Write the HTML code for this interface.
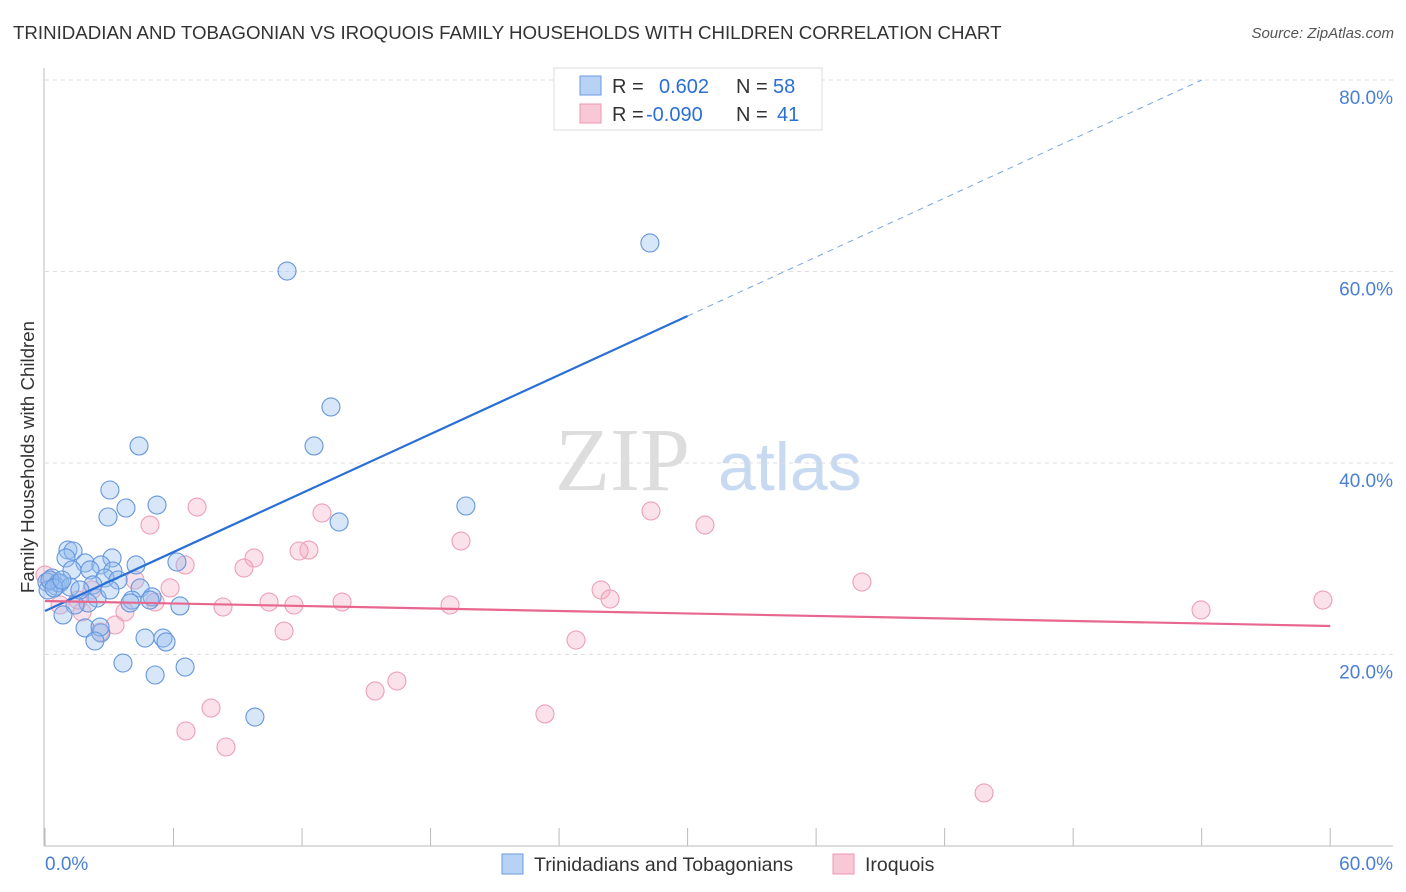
<!DOCTYPE html>
<html><head><meta charset="utf-8"><style>
body{margin:0;background:#fff;font-family:"Liberation Sans",sans-serif}
#wrap{position:relative;width:1406px;height:892px;overflow:hidden}
.t{position:absolute;white-space:nowrap}
</style></head><body>
<div id="wrap">
<div class="t" style="left:13px;top:22px;font-size:18.7px;color:#333">TRINIDADIAN AND TOBAGONIAN VS IROQUOIS FAMILY HOUSEHOLDS WITH CHILDREN CORRELATION CHART</div>
<div class="t" style="right:12px;top:25px;font-size:15px;color:#555;font-style:italic">Source: ZipAtlas.com</div>
<svg id="svg" width="1406" height="892" style="position:absolute;left:0;top:0"></svg>
</div>
<script>
const xTicks=[0,6,12,18,24,30,36,42,48,54,60];
const yTicks=[20,40,60,80];
const blueX=[11.3,28.24,13.35,12.56,4.39,3.03,2.94,3.78,5.23,19.65,13.73,1.07,1.31,0.98,1.87,3.13,4.25,6.16,2.61,2.10,1.26,3.17,2.80,3.41,2.24,0.33,0.09,0.61,0.51,0.70,0.14,1.17,4.44,2.43,5.00,4.90,4.06,2.01,1.40,6.30,0.84,1.87,2.61,2.57,4.67,5.51,5.65,2.33,3.64,6.54,5.14,9.80,0.23,0.42,0.79,1.63,3.03,3.97];
const blueY=[60.05,62.98,45.85,41.78,41.78,37.18,34.36,35.30,35.61,35.51,33.84,30.91,30.81,30.08,29.56,30.08,29.35,29.66,29.35,28.83,28.83,28.72,27.99,27.78,27.26,27.99,27.57,27.47,27.15,27.47,26.74,27.05,26.95,25.90,26.01,25.69,25.69,25.38,25.17,25.07,24.13,22.77,22.25,22.87,21.72,21.72,21.31,21.41,19.11,18.69,17.86,13.47,27.78,26.95,27.78,26.74,26.74,25.38];
const pinkX=[0,7.10,4.90,12.93,9.76,9.29,12.32,11.86,19.42,28.29,30.81,38.14,53.97,59.66,25.96,26.38,5.84,4.20,6.54,13.87,10.46,11.62,8.31,18.91,11.16,24.79,3.73,3.27,2.57,1.73,0.70,1.54,5.14,2.19,16.43,15.41,7.75,6.58,8.45,23.34,43.84];
const pinkY=[28.30,35.40,33.52,34.78,30.08,29.03,30.91,30.81,31.85,34.99,33.52,27.57,24.65,25.69,26.74,25.80,26.95,27.78,29.35,25.48,25.48,25.17,24.96,25.17,22.45,21.51,24.44,23.08,22.35,24.44,25.17,25.69,25.48,26.74,17.23,16.19,14.41,12.01,10.34,13.79,5.54];
const blueTrend=[24.54,1.027]; // intercept, slope
const pinkTrend=[25.59,-0.0435];
const X=v=>45+v*21.42, Y=v=>846-v*9.575;
const svg=document.getElementById('svg'),NS='http://www.w3.org/2000/svg';
function mk(tag,at,name){const e=document.createElementNS(NS,tag);for(const k in at)e.setAttribute(k,at[k]);


svg.appendChild(e);return e;}
let w=mk('text',{x:555,y:490,'font-size':90,fill:'#ddd','font-family':'Liberation Serif'},'watermark-zip');w.textContent='ZIP';
w=mk('text',{x:718,y:490,'font-size':68,fill:'#c8daf2','font-family':'Liberation Sans'},'watermark-atlas');w.textContent='atlas';
yTicks.forEach(v=>{mk('line',{x1:45,x2:1393,y1:Y(v),y2:Y(v),stroke:'#ddd','stroke-dasharray':'4,4'},'y-gridline');
const t=mk('text',{x:1393,y:Y(v)+24,'text-anchor':'end','font-size':19,fill:'#4a7fd6'},'y-tick-label');t.textContent=v.toFixed(1)+'%';});
mk('line',{x1:44,x2:44,y1:68,y2:846,stroke:'#bbb'},'y-axis-line');
mk('line',{x1:44,x2:1393,y1:846,y2:846,stroke:'#bbb'},'x-axis-line');
xTicks.forEach(v=>mk('line',{x1:X(v),x2:X(v),y1:828,y2:846,stroke:'#bbb'},'x-tick'));
let t=mk('text',{x:45,y:870,'font-size':19,fill:'#4a7fd6'},'x-tick-label-min');t.textContent='0.0%';
t=mk('text',{x:1393,y:870,'text-anchor':'end','font-size':19,fill:'#4a7fd6'},'x-tick-label-max');t.textContent='60.0%';
t=mk('text',{x:34,y:457,'font-size':18.7,fill:'#333','text-anchor':'middle',transform:'rotate(-90 34 457)'},'y-axis-title');t.textContent='Family Households with Children';
pinkX.forEach((v,i)=>mk('circle',{cx:X(v),cy:Y(pinkY[i]),r:9,fill:'rgba(245,175,198,0.38)',stroke:'#ee9fb8','stroke-width':1.1},'iroquois-point'));
blueX.forEach((v,i)=>mk('circle',{cx:X(v),cy:Y(blueY[i]),r:9,fill:'rgba(150,190,240,0.38)',stroke:'#6596dc','stroke-width':1.1},'trinidadian-point'));
const bEnd=(80-blueTrend[0])/blueTrend[1];
mk('line',{x1:X(0),y1:Y(blueTrend[0]),x2:X(30),y2:Y(blueTrend[0]+30*blueTrend[1]),stroke:'#2a6fd6','stroke-width':2.2},'trinidadian-trend-line');
mk('line',{x1:X(30),y1:Y(blueTrend[0]+30*blueTrend[1]),x2:X(bEnd),y2:Y(80),stroke:'#7aa3e0','stroke-width':1,'stroke-dasharray':'6,5'},'trinidadian-trend-extension');
mk('line',{x1:X(0),y1:Y(pinkTrend[0]),x2:X(60),y2:Y(pinkTrend[0]+60*pinkTrend[1]),stroke:'#e8678f','stroke-width':2.2},'iroquois-trend-line');
mk('rect',{x:554,y:68,width:268,height:62,fill:'#fff',stroke:'#ddd'},'legend-box');
mk('rect',{x:580,y:76,width:21,height:19,fill:'#b8d2f5',stroke:'#6a9ade'},'legend-swatch-blue');
mk('rect',{x:580,y:104,width:21,height:19,fill:'#f9c8d7',stroke:'#eb97b2'},'legend-swatch-pink');
[['R = ',612,93,'#333'],['0.602',659,93,'#2a6fd6'],['N = ',736,93,'#333'],['58',773,93,'#2a6fd6'],
 ['R = ',612,121,'#333'],['-0.090',646,121,'#2a6fd6'],['N = ',736,121,'#333'],['41',777,121,'#2a6fd6']].forEach(a=>{
 const e=mk('text',{x:a[1],y:a[2],'font-size':20,fill:a[3]},'legend-stat');e.textContent=a[0];});
mk('rect',{x:502,y:854,width:21,height:20,fill:'#b8d2f5',stroke:'#6a9ade'},'bottom-legend-swatch-blue');
t=mk('text',{x:534,y:871,'font-size':19.5,fill:'#333'},'bottom-legend-blue');t.textContent='Trinidadians and Tobagonians';
mk('rect',{x:833,y:854,width:21,height:20,fill:'#f9c8d7',stroke:'#eb97b2'},'bottom-legend-swatch-pink');
t=mk('text',{x:865,y:871,'font-size':19.5,fill:'#333'},'bottom-legend-pink');t.textContent='Iroquois';
</script>
</body></html>
